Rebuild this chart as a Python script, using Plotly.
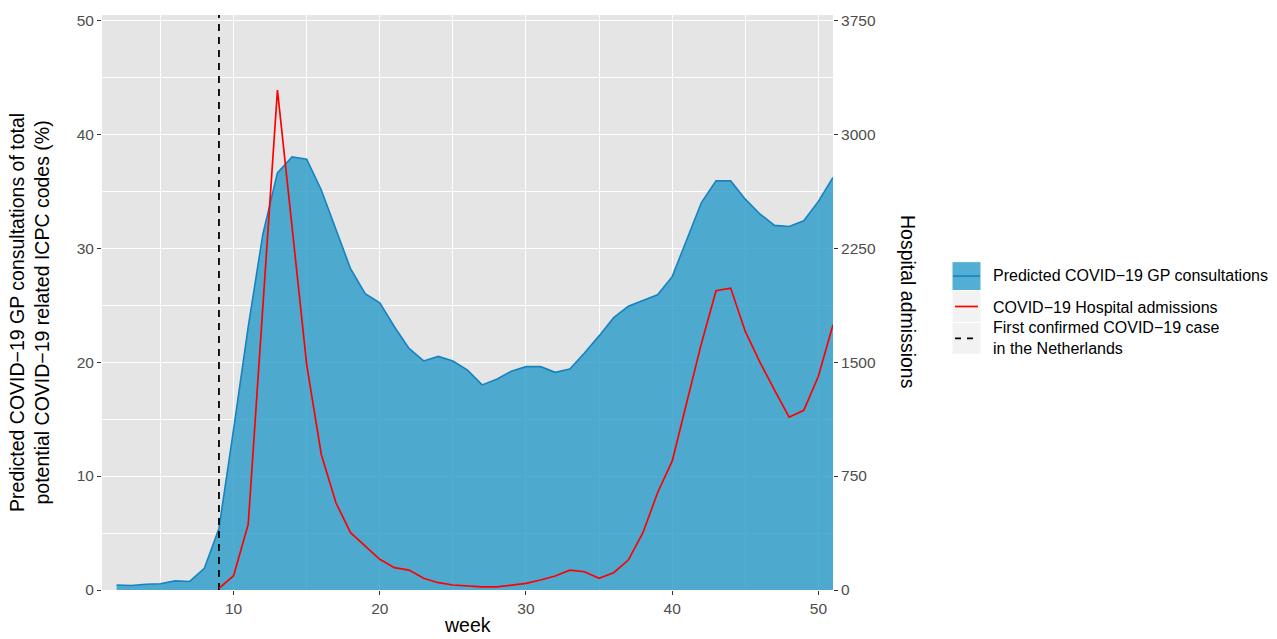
import plotly.graph_objects as go

# ---------------- data ----------------
gp_weeks = list(range(2, 52))
gp_pct = [0.44, 0.40, 0.50, 0.55, 0.80, 0.75, 1.9, 5.4, 14.1, 23.1,
          31.2, 36.6, 38.0, 37.8, 35.1, 31.6, 28.2, 26.0, 25.2, 23.1,
          21.2, 20.1, 20.5, 20.1, 19.3, 18.0, 18.5, 19.2, 19.6, 19.6,
          19.1, 19.4, 20.8, 22.3, 23.9, 24.9, 25.4, 25.9, 27.5, 30.8,
          34.0, 35.9, 35.9, 34.3, 33.0, 32.0, 31.9, 32.4, 34.1, 36.2]

hosp_weeks = list(range(9, 52))
hosp_adm = [10, 94, 432, 1860, 3291, 2390, 1483, 892, 574, 377,
            290, 202, 147, 131, 77, 48, 33, 26, 20, 20,
            31, 44, 66, 92, 131, 120, 77, 114, 197, 377,
            640, 848, 1236, 1623, 1970, 1987, 1702, 1500, 1315, 1137,
            1183, 1407, 1746]

first_case_week = 9

x_ticks = [10, 20, 30, 40, 50]
y_ticks = [0, 10, 20, 30, 40, 50]
y2_ticks = [0, 750, 1500, 2250, 3000, 3750]

legend_labels = ["Predicted COVID\u221219 GP consultations",
                 "COVID\u221219 Hospital admissions",
                 "First confirmed COVID\u221219 case<br>in the Netherlands"]

# ---------------- layout geometry ----------------
W, H = 1277, 639
L, R, T, B = 102, 833, 13, 590
Y_TOP = 50.46
SCALE = 3750 / 50

def px(x):
    return (x - L) / (R - L)

def py(y):
    return 1 - (y - T) / (B - T)

FONT = "Liberation Sans, Arial, sans-serif"
TICK_COL = "#4D4D4D"
FILL = "rgba(39,155,200,0.8)"
EDGE = "rgb(22,130,192)"

fig = go.Figure()

fig.add_trace(go.Scatter(x=gp_weeks, y=gp_pct, mode="lines", fill="tozeroy",
                         fillcolor=FILL, line=dict(color=EDGE, width=1.6),
                         showlegend=False, hoverinfo="skip"))

fig.add_trace(go.Scatter(x=hosp_weeks, y=hosp_adm, mode="lines", yaxis="y2",
                         line=dict(color="#FF0000", width=1.7),
                         showlegend=False, hoverinfo="skip"))

fig.add_trace(go.Scatter(x=[first_case_week, first_case_week], y=[0, Y_TOP], mode="lines",
                         line=dict(color="black", width=1.8, dash="7px,6px"),
                         showlegend=False, hoverinfo="skip"))

axis_common = dict(ticks="outside", ticklen=4, tickwidth=1.1, tickcolor="#333333",
                   tickfont=dict(family=FONT, size=15.5, color=TICK_COL),
                   zeroline=False, showline=False)

fig.update_layout(
    width=W, height=H,
    margin=dict(l=L, r=W - R, t=T, b=H - B),
    paper_bgcolor="white", plot_bgcolor="#E5E5E5",
    font=dict(family=FONT),
    xaxis=dict(range=[1, 51], tickvals=x_ticks, showgrid=True, gridcolor="white",
               gridwidth=1.2,
               minor=dict(dtick=5, tick0=0, showgrid=True, gridcolor="white", gridwidth=0.6, ticks=""),
               **axis_common),
    yaxis=dict(range=[0, Y_TOP], tickvals=y_ticks, showgrid=True, gridcolor="white",
               gridwidth=1.2,
               minor=dict(dtick=5, tick0=0, showgrid=True, gridcolor="white", gridwidth=0.6, ticks=""),
               **axis_common),
    yaxis2=dict(range=[0, Y_TOP * SCALE], tickvals=y2_ticks, overlaying="y", side="right",
                showgrid=False, **axis_common),
)

ann = []
ann.append(dict(x=px(467), y=py(625), xref="paper", yref="paper", text="week",
                showarrow=False, font=dict(family=FONT, size=19.5, color="black"),
                xanchor="center", yanchor="middle"))
ann.append(dict(x=px(30), y=py(312), xref="paper", yref="paper",
                text="Predicted COVID\u221219 GP consultations of total<br>potential COVID\u221219 related ICPC codes (%)",
                showarrow=False, textangle=-90, font=dict(family=FONT, size=19.5, color="black"),
                xanchor="center", yanchor="middle"))
ann.append(dict(x=px(908), y=py(301), xref="paper", yref="paper", text="Hospital admissions",
                showarrow=False, textangle=90, font=dict(family=FONT, size=19.5, color="black"),
                xanchor="center", yanchor="middle"))

shapes = []
# legend keys
key_x0, key_x1 = 952, 981
rows = [(260.5, 289.5), (289.5, 321.5), (321.5, 353.5)]
for i, (y0, y1) in enumerate(rows):
    shapes.append(dict(type="rect", xref="paper", yref="paper",
                       x0=px(key_x0), x1=px(key_x1), y0=py(y1), y1=py(y0),
                       fillcolor="#F2F2F2", line=dict(color="white", width=1)))
shapes[0]["fillcolor"] = FILL
ym = [(a + b) / 2 for a, b in rows]
shapes.append(dict(type="line", xref="paper", yref="paper", x0=px(key_x0 + 1), x1=px(key_x1 - 1),
                   y0=py(ym[0]), y1=py(ym[0]), line=dict(color=EDGE, width=1.6)))
shapes.append(dict(type="line", xref="paper", yref="paper", x0=px(key_x0 + 3), x1=px(key_x1 - 3),
                   y0=py(ym[1]), y1=py(ym[1]), line=dict(color="#FF0000", width=1.7)))
shapes.append(dict(type="line", xref="paper", yref="paper", x0=px(key_x0 + 3), x1=px(key_x1 - 3),
                   y0=py(ym[2]), y1=py(ym[2]), line=dict(color="black", width=1.8, dash="6px,6px")))

text_y = [274.5, 306.5, 337.5]
for lab, yy in zip(legend_labels, text_y):
    ann.append(dict(x=px(991), y=py(yy), xref="paper", yref="paper", text=lab,
                    showarrow=False, align="left", xanchor="left", yanchor="middle",
                    font=dict(family=FONT, size=16, color="black")))

fig.update_layout(annotations=ann, shapes=shapes)
fig.write_html("out.html", config={"displayModeBar": False},
               post_script="document.body.style.margin='0';document.body.style.padding='0';")
